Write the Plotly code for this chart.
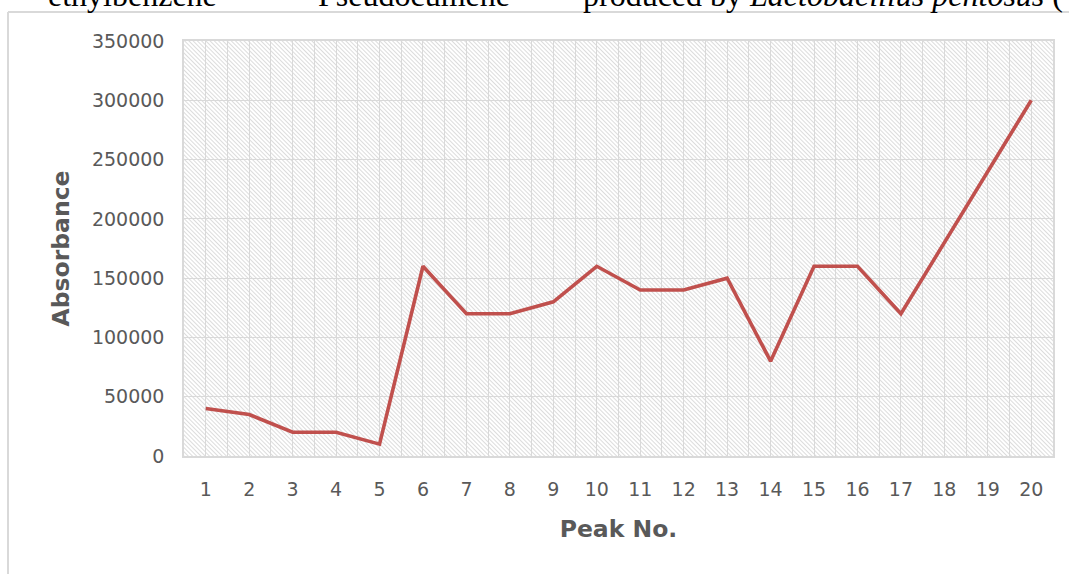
import base64
import plotly.graph_objects as go

# ---- data ----
peak_no = [1, 2, 3, 4, 5, 6, 7, 8, 9, 10, 11, 12, 13, 14, 15, 16, 17, 18, 19, 20]
absorbance = [40000, 35000, 20000, 20000, 10000, 160000, 120000, 120000, 130000, 160000,
              140000, 140000, 150000, 80000, 160000, 160000, 120000, 180000, 240000, 300000]
y_ticks = [0, 50000, 100000, 150000, 200000, 250000, 300000, 350000]
x_title = "Peak No."
y_title = "Absorbance"

W, H = 1069, 574
L, R, T, B = 184, 16, 41, 118
PW, PH = W - L - R, H - T - B

def px_x(x):
    return (x - L) / PW

def px_y(y):
    return (H - B - y) / PH

# hatch background for plot area
svg = (
    f'<svg xmlns="http://www.w3.org/2000/svg" width="{PW}" height="{PH}">'
    '<defs><pattern id="h" width="3" height="3" patternUnits="userSpaceOnUse" '
    'patternTransform="rotate(-45)">'
    '<line x1="0.5" y1="0" x2="0.5" y2="3" stroke="#dcdcdc" stroke-width="1"/>'
    '</pattern></defs>'
    '<rect width="100%" height="100%" fill="white"/>'
    '<rect width="100%" height="100%" fill="url(#h)"/></svg>'
)
hatch_uri = "data:image/svg+xml;base64," + base64.b64encode(svg.encode()).decode()

fig = go.Figure()
fig.add_trace(go.Scatter(
    x=peak_no, y=absorbance, mode="lines",
    line=dict(color="#C0504D", width=3.6),
    showlegend=False, hoverinfo="x+y",
))

tick_font = dict(family="DejaVu Sans", size=19, color="#595959")
title_font = dict(family="DejaVu Sans", size=23.5, color="#595959")

fig.update_layout(
    width=W, height=H,
    margin=dict(l=L, r=R, t=T, b=B, pad=0),
    paper_bgcolor="white", plot_bgcolor="white",
    images=[dict(source=hatch_uri, xref="paper", yref="paper", x=0, y=1,
                 sizex=1, sizey=1, sizing="stretch", xanchor="left",
                 yanchor="top", layer="below")],
    xaxis=dict(
        range=[0.5, 20.5], tickmode="array", tickvals=peak_no,
        ticktext=[str(v) for v in peak_no],
        showgrid=True, gridcolor="#d9d9d9", gridwidth=1.3,
        minor=dict(tickmode="array", tickvals=[v + 0.5 for v in peak_no[:-1]],
                   showgrid=True, gridcolor="#d9d9d9", gridwidth=1.3),
        showline=True, mirror=True, linecolor="#d9d9d9", linewidth=1.5,
        zeroline=False, ticks="", tickfont=tick_font, ticklabelstandoff=15,
        title=dict(text=f"<b>{x_title}</b>", font=title_font, standoff=22),
    ),
    yaxis=dict(
        range=[0, 350000], tickmode="array", tickvals=y_ticks,
        ticktext=[str(v) for v in y_ticks],
        showgrid=True, gridcolor="#d9d9d9", gridwidth=1.3,
        showline=True, mirror=True, linecolor="#d9d9d9", linewidth=1.5,
        zeroline=False, ticks="", tickfont=tick_font, ticklabelstandoff=14,
        title=dict(text=f"<b>{y_title}</b>", font=title_font, standoff=16),
    ),
    shapes=[
        dict(type="line", xref="paper", yref="paper", x0=px_x(8), x1=px_x(W + 5),
             y0=px_y(12), y1=px_y(12), line=dict(color="#d9d9d9", width=2)),
        dict(type="line", xref="paper", yref="paper", x0=px_x(8), x1=px_x(8),
             y0=px_y(12), y1=px_y(H + 5), line=dict(color="#d9d9d9", width=2)),
    ],
)

# clipped document text above the chart frame
serif = dict(family="Liberation Serif", size=32, color="black")
for txt, xp in [("ethylbenzene", 46), ("Pseudocumene", 316),
                ("produced by <i>Lactobacillus pentosus</i> (", 581)]:
    fig.add_annotation(text=txt, xref="paper", yref="paper", x=px_x(xp), y=px_y(15),
                       xanchor="left", yanchor="bottom", showarrow=False, font=serif)

fig.write_html("out.html", config={"displayModeBar": False},
               post_script="document.body.style.margin='0';")
